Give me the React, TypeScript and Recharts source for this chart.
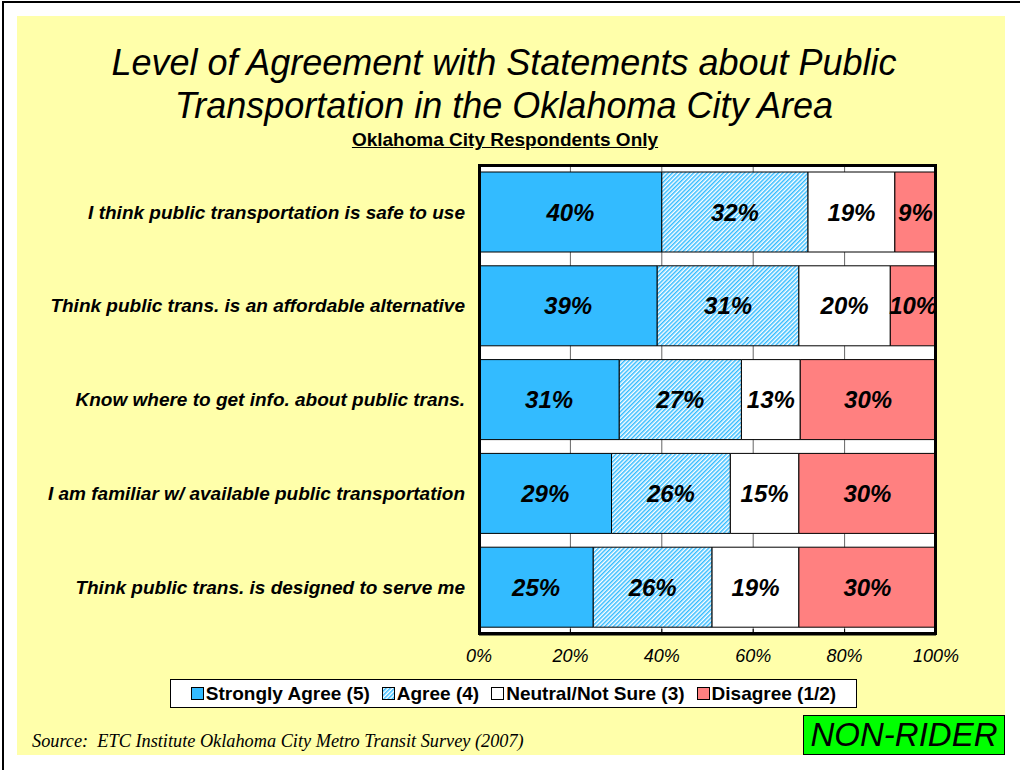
import { Bar, BarChart, CartesianGrid, LabelList, XAxis, YAxis } from 'recharts';

const statements = [
    'I think public transportation is safe to use',
    'Think public trans. is an affordable alternative',
    'Know where to get info. about public trans.',
    'I am familiar w/ available public transportation',
    'Think public trans. is designed to serve me',
];
const stronglyAgree = [40, 39, 31, 29, 25];
const agree = [32, 31, 27, 26, 26];
const neutral = [19, 20, 13, 15, 19];
const disagree = [9, 10, 30, 30, 30];
const xTicks = [0, 0.2, 0.4, 0.6, 0.8, 1];
const seriesNames = ['Strongly Agree (5)', 'Agree (4)', 'Neutral/Not Sure (3)', 'Disagree (1/2)'];

const BLUE = '#33BBFF';
const PINK = '#FF8080';
const YELLOW = '#FFFFAA';
const FONT = '"Liberation Sans", Arial, sans-serif';

const data = statements.map((name, i) => ({
    name,
    strong: stronglyAgree[i],
    agree: agree[i],
    neutral: neutral[i],
    disagree: disagree[i],
}));

const labelStyle = {
    fill: '#000',
    fontSize: 24,
    fontWeight: 'bold',
    fontStyle: 'italic',
};
const pct = (v: any) => `${v}%`;

function Swatch({ fill }: { fill: string }) {
    return (
        <svg width={13} height={13} style={{ marginRight: 2, flex: 'none' }}>
            <defs>
                <pattern id="hatchLegend" patternUnits="userSpaceOnUse" width={3} height={3} patternTransform="rotate(45)">
                    <rect width={3} height={3} fill="#fff" />
                    <rect width={1.5} height={3} fill={BLUE} />
                </pattern>
            </defs>
            <rect x={0.5} y={0.5} width={12} height={12} fill={fill} stroke="#000" strokeWidth={1} />
        </svg>
    );
}

const swatchFills = [BLUE, 'url(#hatchLegend)', '#fff', PINK];

export default function App() {
    return (
        <div style={{ position: 'absolute', left: 0, top: 0, width: 1020, height: 770, background: '#fff', overflow: 'hidden', fontFamily: FONT }}>
            <div style={{ position: 'absolute', left: 2, top: 1, width: 1030, height: 800, borderTop: '2px solid #000', borderLeft: '2px solid #000' }} />
            <div style={{ position: 'absolute', left: 17, top: 16, width: 988, height: 739, background: YELLOW }} />

            <div style={{ position: 'absolute', left: 0, top: 41, width: 1008, textAlign: 'center', fontSize: 36, fontStyle: 'italic', lineHeight: '43px', color: '#000' }}>
                Level of Agreement with Statements about Public
                <br />
                Transportation in the Oklahoma City Area
            </div>
            <div style={{ position: 'absolute', left: 0, top: 130, width: 1010, textAlign: 'center', fontSize: 19, fontWeight: 'bold', textDecoration: 'underline', lineHeight: '20px' }}>
                Oklahoma City Respondents Only
            </div>

            <div style={{ position: 'absolute', left: 0, top: 0 }}>
                <BarChart
                    width={1020}
                    height={770}
                    data={data}
                    layout="vertical"
                    stackOffset="expand"
                    margin={{ top: 165, right: 84, bottom: 106, left: 0 }}
                >
                    <defs>
                        <pattern id="hatch" patternUnits="userSpaceOnUse" width={3} height={3} patternTransform="rotate(45)">
                            <rect width={3} height={3} fill="#fff" />
                            <rect width={1.5} height={3} fill={BLUE} />
                        </pattern>
                    </defs>
                    <CartesianGrid horizontal={false} stroke="#666" fill="#fff" />
                    <XAxis
                        type="number"
                        domain={[0, 1]}
                        ticks={xTicks}
                        tickFormatter={(v: number) => `${Math.round(v * 100)}%`}
                        axisLine={{ stroke: '#000', strokeWidth: 3 }}
                        tickLine={{ stroke: '#000' }}
                        tickSize={-5}
                        tickMargin={20}
                        height={30}
                        tick={{ fill: '#000', fontSize: 18, fontStyle: 'italic' }}
                    />
                    <YAxis
                        type="category"
                        dataKey="name"
                        width={479}
                        axisLine={false}
                        tickLine={false}
                        tickSize={0}
                        tickMargin={14}
                        tick={{ fill: '#000', fontSize: 19, fontWeight: 'bold', fontStyle: 'italic' }}
                    />
                    <Bar dataKey="strong" stackId="a" fill={BLUE} stroke="#000" strokeWidth={1} barSize={80} isAnimationActive={false}>
                        <LabelList dataKey="strong" position="center" formatter={pct} style={labelStyle} />
                    </Bar>
                    <Bar dataKey="agree" stackId="a" fill="url(#hatch)" stroke="#000" strokeWidth={1} barSize={80} isAnimationActive={false}>
                        <LabelList dataKey="agree" position="center" formatter={pct} style={labelStyle} />
                    </Bar>
                    <Bar dataKey="neutral" stackId="a" fill="#fff" stroke="#000" strokeWidth={1} barSize={80} isAnimationActive={false}>
                        <LabelList dataKey="neutral" position="center" formatter={pct} style={labelStyle} />
                    </Bar>
                    <Bar dataKey="disagree" stackId="a" fill={PINK} stroke="#000" strokeWidth={1} barSize={80} isAnimationActive={false}>
                        <LabelList dataKey="disagree" position="center" formatter={pct} style={labelStyle} />
                    </Bar>
                </BarChart>
            </div>

            {/* plot frame */}
            <div style={{ position: 'absolute', left: 478, top: 164, width: 453, height: 465, border: '3px solid #000', pointerEvents: 'none' }} />

            <div
                style={{
                    position: 'absolute', left: 170, top: 679, width: 685, height: 27, border: '1.5px solid #000', background: '#fff',
                    display: 'flex', alignItems: 'center', justifyContent: 'center', gap: 12, fontSize: 19, fontWeight: 'bold', whiteSpace: 'nowrap',
                }}
            >
                {seriesNames.map((s, i) => (
                    <div key={s} style={{ display: 'flex', alignItems: 'center' }}>
                        <Swatch fill={swatchFills[i]} />
                        {s}
                    </div>
                ))}
            </div>

            <div style={{ position: 'absolute', left: 32, top: 731, fontFamily: '"Liberation Serif", "Times New Roman", serif', fontStyle: 'italic', fontSize: 18.3, lineHeight: '20px' }}>
                Source:&nbsp; ETC Institute Oklahoma City Metro Transit Survey (2007)
            </div>
            <div style={{ position: 'absolute', left: 803, top: 715, width: 200, height: 38, background: '#00FF00', border: '1px solid #000', fontSize: 33, fontStyle: 'italic', lineHeight: '38px', textAlign: 'center' }}>
                NON-RIDER
            </div>
        </div>
    );
}
